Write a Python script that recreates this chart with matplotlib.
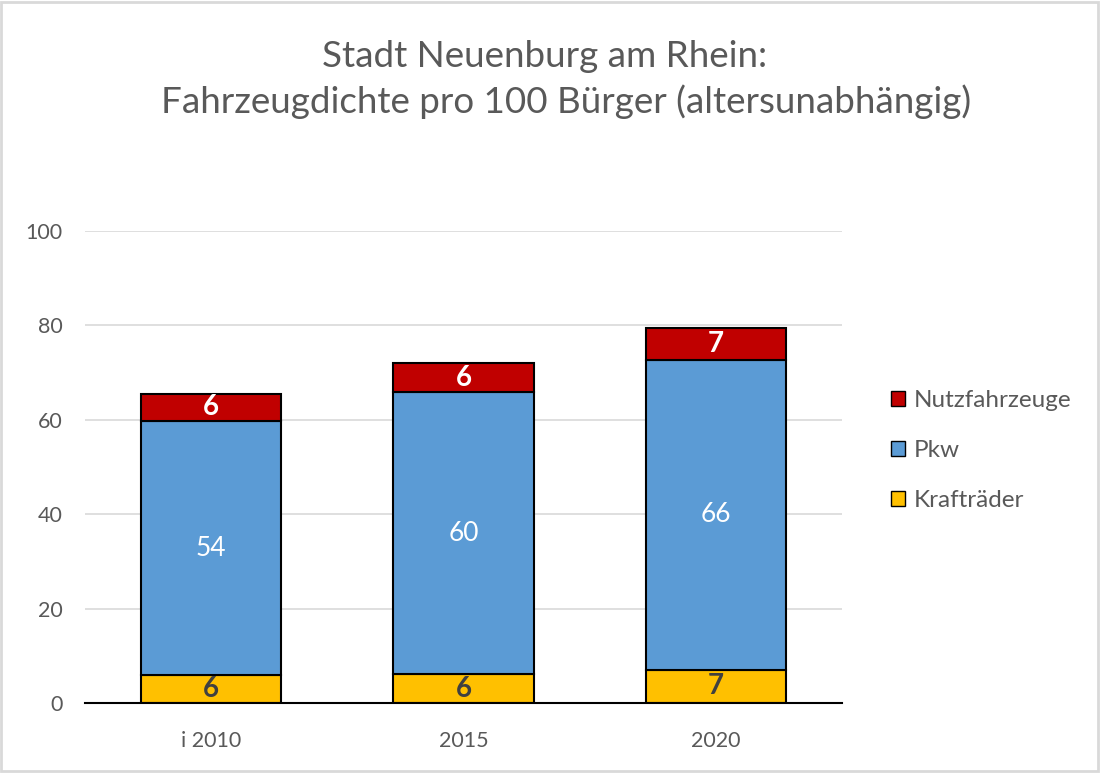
import matplotlib
matplotlib.use("Agg")
import matplotlib.pyplot as plt
from matplotlib.patches import Rectangle, Patch

plt.rcParams['font.family'] = ['Lato', 'DejaVu Sans']

categories = ["i 2010", "2015", "2020"]
kraftraeder = [5.9, 6.1, 7.0]
pkw = [53.8, 59.8, 65.7]
nutzfahrzeuge = [5.8, 6.1, 6.7]
lbl_kraft = ["6", "6", "7"]
lbl_pkw = ["54", "60", "66"]
lbl_nutz = ["6", "6", "7"]
yticks = [0, 20, 40, 60, 80, 100]

c_k, c_p, c_n = "#FFC000", "#5B9BD5", "#C00000"
gray = "#595959"

fig = plt.figure(figsize=(11, 7.73), dpi=100)
ax = fig.add_axes([0.0773, 0.0906, 0.6882, 0.6106])
x = list(range(len(categories)))
w = 0.556
ax.bar(x, kraftraeder, w, color=c_k, edgecolor="black", linewidth=1.5, zorder=3)
bottom2 = kraftraeder
ax.bar(x, pkw, w, bottom=bottom2, color=c_p, edgecolor="black", linewidth=1.5, zorder=3)
bottom3 = [a + b for a, b in zip(kraftraeder, pkw)]
ax.bar(x, nutzfahrzeuge, w, bottom=bottom3, color=c_n, edgecolor="black", linewidth=1.5, zorder=3)

for i in x:
    ax.text(i, kraftraeder[i] / 2, lbl_kraft[i], ha="center", va="center",
            fontsize=20, fontweight="bold", color="#404040", zorder=4)
    ax.text(i, bottom2[i] + pkw[i] / 2, lbl_pkw[i], ha="center", va="center",
            fontsize=19, color="white", zorder=4)
    ax.text(i, bottom3[i] + nutzfahrzeuge[i] / 2, lbl_nutz[i], ha="center", va="center",
            fontsize=20, fontweight="bold", color="white", zorder=4)

ax.set_xlim(-0.5, 2.5)
ax.set_ylim(0, 100)
ax.set_yticks(yticks)
ax.set_xticks(x)
ax.set_xticklabels(categories)
ax.tick_params(axis="both", length=0, labelsize=15.5, colors=gray)
ax.tick_params(axis="y", pad=16)
ax.tick_params(axis="x", pad=20)
ax.grid(axis="y", color="#d9d9d9", linewidth=1.2, zorder=0)
for s in ["top", "right", "left"]:
    ax.spines[s].set_visible(False)
ax.spines["bottom"].set_color("black")
ax.spines["bottom"].set_linewidth(1.5)
ax.spines["bottom"].set_zorder(5)

handles = [Patch(facecolor=c_n, edgecolor="black", label="Nutzfahrzeuge"),
           Patch(facecolor=c_p, edgecolor="black", label="Pkw"),
           Patch(facecolor=c_k, edgecolor="black", label="Krafträder")]
fig.legend(handles=handles, loc="center left", bbox_to_anchor=(0.79, 0.417),
           frameon=False, fontsize=17.5, labelcolor=gray, handlelength=0.6,
           handleheight=0.6, handletextpad=0.35, labelspacing=1.2)

fig.text(0.495, 0.927, "Stadt Neuenburg am Rhein:", ha="center", va="center",
         fontsize=26.5, color=gray)
fig.text(0.5145, 0.869, "Fahrzeugdichte pro 100 Bürger (altersunabhängig)", ha="center",
         va="center", fontsize=26.5, color=gray)

fig.patches.append(Rectangle((0.001, 0.002), 0.997, 0.996, transform=fig.transFigure,
                             fill=False, edgecolor="#d9d9d9", linewidth=2))

fig.savefig("out.png", dpi=100)
